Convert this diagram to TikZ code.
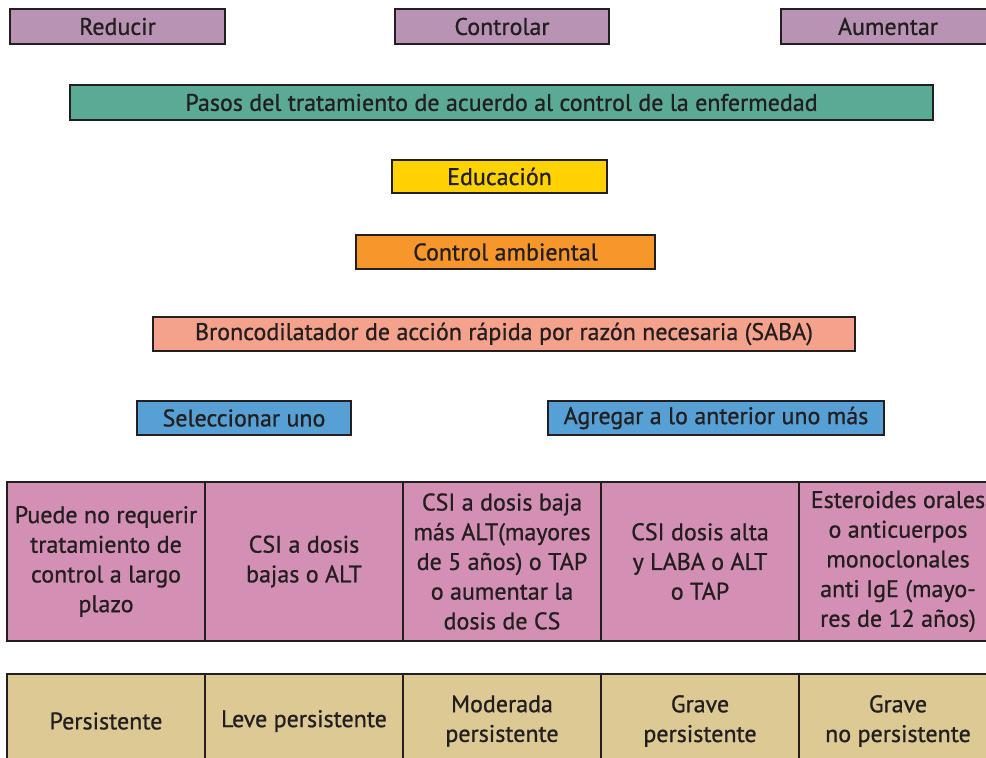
\documentclass[tikz,border=0pt]{standalone}
\usepackage{fontspec}
\setmainfont{PT Sans}
\newfontfamily\letra{PT Sans}[FakeBold=0.9]
\usetikzlibrary{positioning}

\definecolor{malva}{RGB}{185,147,180}
\definecolor{verde}{RGB}{90,170,150}
\definecolor{amarillo}{RGB}{255,210,0}
\definecolor{naranja}{RGB}{247,151,43}
\definecolor{salmon}{RGB}{245,162,140}
\definecolor{azul}{RGB}{86,160,213}
\definecolor{rosa}{RGB}{212,144,180}
\definecolor{arena}{RGB}{220,201,148}
\definecolor{tinta}{RGB}{35,31,32}

\begin{document}
\begin{tikzpicture}[x=1pt, y=-1pt,
    caja/.style={draw=tinta, line width=1.2pt, inner sep=0pt, outer sep=0pt, anchor=north west,
                 text=tinta, font=\letra\fontsize{24}{28}\selectfont},
    celda/.style={draw=tinta, line width=1.2pt, inner sep=0pt, outer sep=0pt, align=center,
                  minimum width=198pt, text=tinta, font=\letra\fontsize{24}{29.7}\selectfont}]
    \useasboundingbox (0,0) rectangle (986,758);
    \clip (0,0) rectangle (986,758);

    % direccion del tratamiento
    \node (reducir) [caja, fill=malva, minimum width=215pt, minimum height=35pt] at (10,9) {Reducir};
    \node (controlar) [caja, fill=malva, minimum width=214pt, minimum height=35pt] at (395,9) {Controlar};
    \node (aumentar) [caja, fill=malva, minimum width=214pt, minimum height=35pt] at (781,9) {Aumentar};

    \node (pasos) [caja, fill=verde, minimum width=863pt, minimum height=35pt] at (70,85)
        {Pasos del tratamiento de acuerdo al control de la enfermedad};
    \node (educ) [caja, fill=amarillo, minimum width=215pt, minimum height=33pt] at (392,160) {Educación};
    \node (ambiente) [caja, fill=naranja, minimum width=299pt, minimum height=34pt] at (356,235) {Control ambiental};
    \node (saba) [caja, fill=salmon, minimum width=702pt, minimum height=34pt] at (153,317)
        {Broncodilatador de acción rápida por razón necesaria (SABA)};
    \node (uno) [caja, fill=azul, minimum width=214pt, minimum height=34pt] at (137,401) {Seleccionar uno};
    \node (mas) [caja, fill=azul, minimum width=336pt, minimum height=34pt] at (548,401) {Agregar a lo anterior uno más};

    % pasos de control
    \node (paso1) [celda, fill=rosa, minimum height=159pt, anchor=north west] at (7,482)
        {Puede no requerir\\tratamiento de\\control a largo\\plazo};
    \node (paso2) [celda, fill=rosa, minimum height=159pt, right=0pt of paso1] {CSI a dosis\\bajas o ALT};
    \node (paso3) [celda, fill=rosa, minimum height=159pt, right=0pt of paso2]
        {CSI a dosis baja\\más ALT(mayores\\de 5 años) o TAP\\o aumentar la\\dosis de CS};
    \node (paso4) [celda, fill=rosa, minimum height=159pt, right=0pt of paso3] {CSI dosis alta\\y LABA o ALT\\o TAP};
    \node (paso5) [celda, fill=rosa, minimum height=159pt, right=0pt of paso4]
        {Esteroides orales\\o anticuerpos\\monoclonales\\anti IgE (mayo-\\res de 12 años)};

    % gravedad
    \node (nivel1) [celda, fill=arena, minimum height=94pt, anchor=north west] at (7,674) {Persistente};
    \node (nivel2) [celda, fill=arena, minimum height=94pt, right=0pt of nivel1] {Leve persistente};
    \node (nivel3) [celda, fill=arena, minimum height=94pt, right=0pt of nivel2] {Moderada\\persistente};
    \node (nivel4) [celda, fill=arena, minimum height=94pt, right=0pt of nivel3] {Grave\\persistente};
    \node (nivel5) [celda, fill=arena, minimum height=94pt, right=0pt of nivel4] {Grave\\no persistente};
\end{tikzpicture}
\end{document}
